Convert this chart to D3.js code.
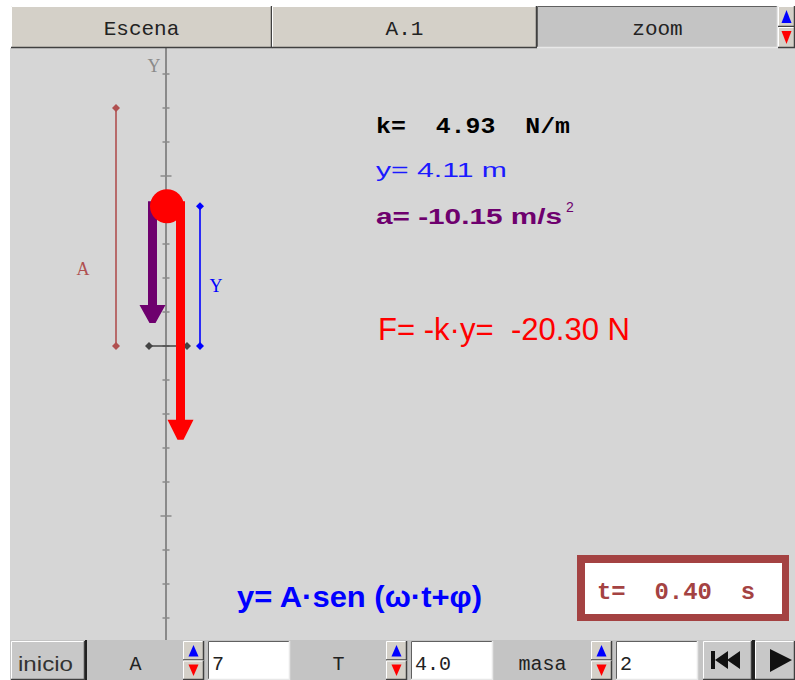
<!DOCTYPE html>
<html>
<head>
<meta charset="utf-8">
<script src="https://cdn.jsdelivr.net/npm/d3@7"></script>
<style>
  body { margin: 0; background: #fff; }
  svg { display: block; }
</style>
</head>
<body>
<svg id="chart" width="795" height="680"></svg>
<script>
// applet state
var tabLabels = ["Escena", "A.1", "zoom"];
var paramLabels = ["A", "T", "masa"];
var paramValues = ["7", "4.0", "2"];
var tickValues = [-8, -7, -6, -5, -4, -3, -2, -1, 0, 1, 2, 3, 4, 5, 6, 7, 8];
var majorTicks = [-5, 5];
var readoutKeys = ["k", "y", "a", "F", "t"];
var readoutValues = [4.93, 4.11, -10.15, -20.30, 0.40];

var svg = d3.select('#chart');
var W = 795, H = 680;
var sceneTop = 48, sceneBottom = 640, sceneLeft = 10;

var amp = +paramValues[0];
var k = readoutValues[0], yPos = readoutValues[1], acc = readoutValues[2],
    force = readoutValues[3], time = readoutValues[4];

var yScale = d3.scaleLinear().domain([-8, 8]).range([618, 74]);
var vecScale = d3.scaleLinear().domain([0, 1]).range([0, 11.5]);
var axisX = 166;

svg.append('rect').attr('width', W).attr('height', H).attr('fill', '#fff');
svg.append('rect')
  .attr('x', sceneLeft).attr('y', sceneTop)
  .attr('width', W - sceneLeft).attr('height', sceneBottom - sceneTop)
  .attr('fill', '#d6d6d6');

// vertical axis
var axis = svg.append('g');
axis.append('line')
  .attr('x1', axisX).attr('x2', axisX)
  .attr('y1', sceneTop).attr('y2', sceneBottom)
  .attr('stroke', '#8a8a8a').attr('stroke-width', 2);
axis.selectAll('.tick').data(tickValues).enter().append('line')
  .attr('class', 'tick')
  .attr('x1', d => axisX - (majorTicks.indexOf(d) >= 0 ? 5.5 : 3.5))
  .attr('x2', d => axisX + (majorTicks.indexOf(d) >= 0 ? 5.5 : 3.5))
  .attr('y1', d => yScale(d)).attr('y2', d => yScale(d))
  .attr('stroke', '#8a8a8a').attr('stroke-width', 1.5);
axis.append('text')
  .attr('x', 154).attr('y', 72)
  .attr('text-anchor', 'middle')
  .attr('font-family', 'Liberation Serif').attr('font-size', 18)
  .attr('fill', '#8a8a8a').text('Y');

function diamond(g, x, y, color) {
  g.append('path')
    .attr('d', `M${x - 4},${y}L${x},${y - 4}L${x + 4},${y}L${x},${y + 4}Z`)
    .attr('fill', color);
}

function segment(x1, y1, x2, y2, color) {
  var g = svg.append('g');
  g.append('line')
    .attr('x1', x1).attr('y1', y1).attr('x2', x2).attr('y2', y2)
    .attr('stroke', color).attr('stroke-width', 1.6);
  diamond(g, x1, y1, color);
  diamond(g, x2, y2, color);
  return g;
}

// amplitude, elongation and equilibrium markers
segment(116, yScale(amp), 116, yScale(0), '#b05050');
svg.append('text')
  .attr('x', 83).attr('y', 275).attr('text-anchor', 'middle')
  .attr('font-family', 'Liberation Serif').attr('font-size', 18)
  .attr('fill', '#b05050').text('A');

segment(200, yScale(yPos), 200, yScale(0), '#0000ff');
svg.append('text')
  .attr('x', 216).attr('y', 292).attr('text-anchor', 'middle')
  .attr('font-family', 'Liberation Serif').attr('font-size', 18)
  .attr('fill', '#0000ff').text('Y');

segment(149, yScale(0), 187, yScale(0), '#444');

// arrows: shaft from the mass down to the tip
function arrow(cx, value, headLen, color) {
  var y0 = yScale(yPos) - 5;
  var tip = yScale(yPos) + vecScale(-value);
  var hb = tip - headLen;
  var sw = 4.5, hw = 13, tw = 3;
  svg.append('path')
    .attr('d', `M${cx - sw},${y0}H${cx + sw}V${hb}H${cx + hw}L${cx + tw},${tip}H${cx - tw}L${cx - hw},${hb}H${cx - sw}Z`)
    .attr('fill', color);
}
arrow(152.5, acc, 18, '#6e006e');
arrow(180.5, force, 20, '#ff0000');

svg.append('circle')
  .attr('cx', axisX + 1).attr('cy', yScale(yPos)).attr('r', 17)
  .attr('fill', '#ff0000');

// readouts
function label(x, y, str, opts) {
  return svg.append('text')
    .attr('x', x).attr('y', y)
    .attr('font-family', opts.family).attr('font-size', opts.size)
    .attr('font-weight', opts.bold ? 'bold' : 'normal')
    .attr('fill', opts.color)
    .attr('textLength', opts.len).attr('lengthAdjust', 'spacingAndGlyphs')
    .attr('xml:space', 'preserve')
    .text(str);
}
label(376, 133, readoutKeys[0] + '=  ' + k.toFixed(2) + '  N/m',
  {family: 'Liberation Mono', size: 22, bold: true, color: '#000', len: 194});
label(376, 177, readoutKeys[1] + '= ' + yPos.toFixed(2) + ' m',
  {family: 'Liberation Sans', size: 21, color: '#1a1aff', len: 131});
label(376, 224, readoutKeys[2] + '= ' + acc.toFixed(2) + ' m/s',
  {family: 'Liberation Sans', size: 22, bold: true, color: '#6e006e', len: 186});
svg.append('text')
  .attr('x', 566).attr('y', 212)
  .attr('font-family', 'Liberation Sans').attr('font-size', 14)
  .attr('fill', '#6e006e').text('2');
label(378, 340, readoutKeys[3] + '= -k\u00b7y=  ' + force.toFixed(2) + ' N',
  {family: 'Liberation Sans', size: 31, color: '#ff0000', len: 252});
label(237, 607, 'y= A\u00b7sen (\u03c9\u00b7t+\u03c6)',
  {family: 'Liberation Sans', size: 30, bold: true, color: '#0000ff', len: 245});

// time box
svg.append('rect')
  .attr('x', 577).attr('y', 555).attr('width', 212).attr('height', 66)
  .attr('fill', '#a44242');
svg.append('rect')
  .attr('x', 585).attr('y', 563).attr('width', 197).attr('height', 51)
  .attr('fill', '#fff');
label(597, 599, readoutKeys[4] + '=  ' + time.toFixed(2) + '  s',
  {family: 'Liberation Mono', size: 24, bold: true, color: '#a44242', len: 158});

// widgets
function box(x, y, w, h, fill, raised) {
  svg.append('rect').attr('x', x).attr('y', y).attr('width', w).attr('height', h).attr('fill', fill);
  var lt = raised ? '#ffffff' : '#606060', rb = raised ? '#404040' : '#e8e8e8';
  svg.append('path').attr('d', `M${x + 0.5},${y + h}V${y + 0.5}H${x + w}`)
    .attr('stroke', lt).attr('fill', 'none');
  svg.append('path').attr('d', `M${x + w - 0.5},${y}V${y + h - 0.5}H${x}`)
    .attr('stroke', rb).attr('fill', 'none').attr('stroke-width', 1.5);
}

function spinner(x, y, w, h) {
  var half = h / 2, cx = x + w / 2;
  box(x, y, w, half, '#d4d0c8', true);
  box(x, y + half, w, half, '#d4d0c8', true);
  svg.append('path')
    .attr('d', `M${cx - 5},${y + half - 4}L${cx + 5},${y + half - 4}L${cx},${y + 4}Z`)
    .attr('fill', '#0000ff');
  svg.append('path')
    .attr('d', `M${cx - 5},${y + half + 4}L${cx + 5},${y + half + 4}L${cx},${y + h - 4}Z`)
    .attr('fill', '#ff0000');
}

function mono(x, y, str, anchor, size) {
  svg.append('text')
    .attr('x', x).attr('y', y).attr('text-anchor', anchor)
    .attr('font-family', 'Liberation Mono').attr('font-size', size || 20)
    .attr('fill', '#222').text(str);
}

// top tabs
var tabX = [11, 272, 537, 778];
tabLabels.forEach(function (t, i) {
  var x0 = tabX[i], x1 = tabX[i + 1];
  box(x0, 6, x1 - x0, 42, i < 2 ? '#d4d0c8' : '#c4c4c4', i < 2);
  mono((x0 + x1) / 2, 35, t, 'middle', 21);
});
spinner(778, 6, 17, 42);

// bottom controls
svg.append('rect').attr('x', sceneLeft).attr('y', 640).attr('width', W - sceneLeft).attr('height', 40)
  .attr('fill', '#c4c4c4');
box(11, 641, 74, 39, '#c8c8c8', true);
svg.append('text')
  .attr('x', 18).attr('y', 671)
  .attr('font-family', 'Liberation Sans').attr('font-size', 21)
  .attr('textLength', 55).attr('lengthAdjust', 'spacingAndGlyphs')
  .attr('fill', '#333').text('inicio');
svg.append('rect').attr('x', 85).attr('y', 640).attr('width', 2).attr('height', 40).attr('fill', '#222');

var ctrlX = [87, 290, 493];
var ctrlLabelW = [95, 95, 97];
ctrlX.forEach(function (x, i) {
  var lw = ctrlLabelW[i];
  mono(x + lw / 2 + 1, 670, paramLabels[i], 'middle', 20);
  spinner(x + lw + 1, 641, 21, 39);
  box(x + lw + 26, 641, 82, 39, '#ffffff', false);
  mono(x + lw + 30, 670, paramValues[i], 'start', 20);
});

box(703, 641, 49, 39, '#c8c8c8', true);
svg.append('rect').attr('x', 752).attr('y', 640).attr('width', 3).attr('height', 40).attr('fill', '#222');
box(755, 641, 40, 39, '#c8c8c8', true);
svg.append('rect').attr('x', 711).attr('y', 651).attr('width', 4).attr('height', 18).attr('fill', '#111');
svg.append('path').attr('d', 'M715,660L728,651V669Z M727,660L740,651V669Z').attr('fill', '#111');
svg.append('path').attr('d', 'M770,649L792,660L770,672Z').attr('fill', '#111');
</script>
</body>
</html>
